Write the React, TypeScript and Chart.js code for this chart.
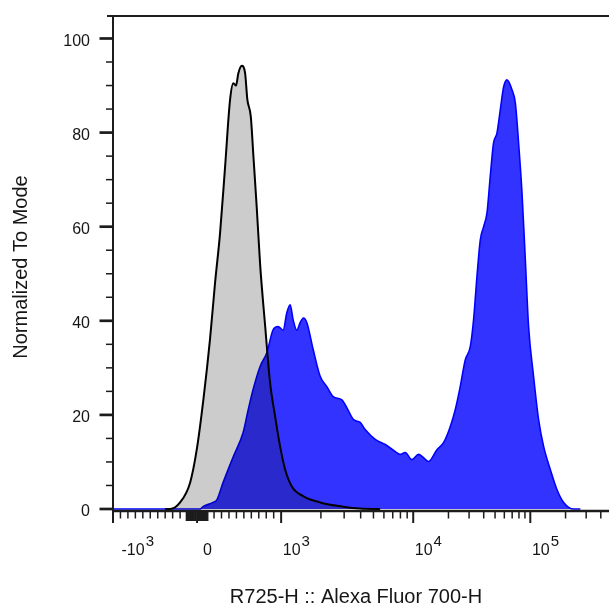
import React, { useEffect, useRef } from "react";
import { Chart, registerables } from "chart.js";

Chart.register(...registerables);

// ---- Data (fluorescence values, normalized-to-mode counts) ----
const CONTROL_X = [-300, -234, -100, -41, -2, 37, 76, 113, 181, 248, 315, 359, 395, 426, 472, 516, 547, 593, 628, 673, 718, 785, 852, 919, 986, 1072, 1205, 1476, 1974, 2949, 3966, 5623];
const CONTROL_Y = [0, 0, 1.4, 5.6, 12.6, 23.2, 36, 48, 58.7, 72.7, 87, 90.5, 90, 92.6, 94.2, 92.7, 87, 83.4, 75, 64, 52, 39, 26.8, 19.7, 13.3, 8.4, 4.8, 2.7, 1.4, 0.5, 0.1, 0];

const SAMPLE_X = [-1000, -41, 18, 35, 94, 140, 221, 355, 489, 557, 624, 718, 808, 892, 959, 1035, 1104, 1170, 1233, 1315, 1393, 1476, 1566, 1748, 1974, 2219, 2477, 2883, 3147, 3535, 3966, 4327, 5156, 6143, 7318, 7975, 8700, 9773, 11100, 12250, 13510, 15940, 18150, 20710, 22860, 25210, 27830, 30720, 32770, 35030, 37410, 39940, 42700, 45460, 48550, 51890, 55390, 59160, 63230, 69750, 74470, 79430, 84910, 90650, 96710, 106700, 117700, 129900, 148200, 169100, 192700, 234600, 267500];
const SAMPLE_Y = [0, 0, 0, 0.5, 1.4, 2.0, 5.6, 11, 16.2, 21, 25.4, 30.3, 33.2, 38.1, 38.8, 38, 41.7, 43.4, 40.2, 38, 39.6, 40.6, 39.6, 33.9, 28.2, 26, 23.9, 23.2, 21.5, 19, 18.4, 16.9, 14.8, 13.7, 12.2, 11.6, 12, 10.5, 11.6, 10.9, 10.1, 12.6, 14.1, 17.5, 21.1, 26, 31.7, 34.5, 40.2, 49.4, 57.2, 60, 63, 70.6, 77.8, 79.9, 84.8, 89.7, 91.2, 89.1, 86.3, 77.8, 67.2, 53, 38.7, 28.1, 19, 13.3, 8.4, 4.1, 1.4, 0, 0];

// ---- Axis ticks ----
const X_TICK_VALUES = [-1000, 0, 1000, 10000, 100000];
const X_TICK_BASES = ["-10", "0", "10", "10", "10"];
const X_TICK_EXPS = ["3", "", "3", "4", "5"];
const X_MINOR = [
  -900, -800, -700, -600, -500, -400, -300, -200, -100,
  100, 200, 300, 400, 500, 600, 700, 800, 900,
  2000, 3000, 4000, 5000, 6000, 7000, 8000, 9000,
  20000, 30000, 40000, 50000, 60000, 70000, 80000, 90000,
  200000, 300000, 400000,
];
const X_NEAR_ZERO = [-60, -50, -40, -30, -20, -10, 10, 20, 30, 40, 50, 60];
const Y_MAJOR = [0, 20, 40, 60, 80, 100];
const Y_MINOR = [5, 10, 15, 25, 30, 35, 45, 50, 55, 65, 70, 75, 85, 90, 95];

const X_MIN_VALUE = -1000;
const X_MAX_VALUE = 470000;
const Y_MIN = -0.425;
const Y_MAX = 104.78;

// ---- Biexponential-like display transform (units: one upper decade = 1) ----
const W_ZERO = 0.145; // 0..100
const W_MID = 0.573; // 100..1000
const W_DEC3 = 1.128; // 1e3..1e4
function biex(v: number): number {
  const s = v < 0 ? -1 : 1;
  const a = Math.abs(v);
  let t: number;
  if (a <= 100) t = (a / 100) * W_ZERO;
  else if (a <= 1000) t = W_ZERO + ((a - 100) / 900) * W_MID;
  else if (a <= 10000) t = W_ZERO + W_MID + Math.log10(a / 1000) * W_DEC3;
  else t = W_ZERO + W_MID + W_DEC3 + Math.log10(a / 10000);
  return s * t;
}

const FONT = '"Liberation Sans", Arial, Helvetica, sans-serif';
const AXIS_COLOR = "#1c1c1c";
const TEXT_COLOR = "#161616";

const multiplyPlugin = {
  id: "multiplyBlend",
  beforeDatasetsDraw(chart: any) {
    chart.ctx.save();
    chart.ctx.globalCompositeOperation = "multiply";
  },
  afterDatasetsDraw(chart: any) {
    chart.ctx.restore();
  },
};

const axesPlugin = {
  id: "flowAxes",
  afterDraw(chart: any) {
    const { ctx, chartArea: a, scales } = chart;
    const xs = scales.x;
    const ys = scales.y;
    const seg = (x1: number, y1: number, x2: number, y2: number, w: number) => {
      ctx.lineWidth = w;
      ctx.beginPath();
      ctx.moveTo(x1, y1);
      ctx.lineTo(x2, y2);
      ctx.stroke();
    };
    ctx.save();
    ctx.strokeStyle = AXIS_COLOR;
    ctx.lineCap = "butt";
    // frame
    seg(a.left - 6, a.top, a.right, a.top, 2);
    seg(a.left, a.top, a.left, a.bottom + 12, 2);
    seg(a.left, a.bottom, a.right, a.bottom, 2.5);

    // y ticks
    Y_MINOR.forEach((v) => {
      const py = ys.getPixelForValue(v);
      seg(a.left - 7, py, a.left, py, 1.5);
    });
    ctx.fillStyle = TEXT_COLOR;
    ctx.font = `16px ${FONT}`;
    ctx.textAlign = "right";
    ctx.textBaseline = "alphabetic";
    Y_MAJOR.forEach((v) => {
      const py = ys.getPixelForValue(v);
      seg(a.left - 13.5, py, a.left, py, 2.7);
      ctx.fillText(String(v), 90, py + 7.3);
    });

    // x ticks
    X_MINOR.forEach((v) => {
      const px = xs.getPixelForValue(biex(v));
      if (px < a.left || px > a.right) return;
      seg(px, a.bottom, px, a.bottom + 7.5, 1.5);
    });
    X_NEAR_ZERO.forEach((v) => {
      const px = xs.getPixelForValue(biex(v));
      seg(px, a.bottom, px, a.bottom + 10, 2.4);
    });
    X_TICK_VALUES.forEach((v, i) => {
      const px = xs.getPixelForValue(biex(v));
      seg(px, a.bottom, px, a.bottom + 12, 2);
      ctx.textAlign = "left";
      ctx.font = `16px ${FONT}`;
      const base = X_TICK_BASES[i];
      const bw = ctx.measureText(base).width;
      const left = Math.max(px + 10.5 - bw / 2, a.left + 8.5);
      ctx.fillText(base, left, 555);
      if (X_TICK_EXPS[i]) {
        ctx.font = `15px ${FONT}`;
        ctx.fillText(X_TICK_EXPS[i], left + bw + 1, 546);
      }
    });

    // titles
    ctx.font = `20px ${FONT}`;
    ctx.textAlign = "center";
    ctx.fillText("R725-H :: Alexa Fluor 700-H", 356, 603);
    ctx.save();
    ctx.translate(27, 267);
    ctx.rotate(-Math.PI / 2);
    ctx.fillText("Normalized To Mode", 0, 0);
    ctx.restore();
    ctx.restore();
  },
};

export default function App() {
  const ref = useRef<HTMLCanvasElement | null>(null);
  useEffect(() => {
    if (!ref.current) return;
    const toPts = (xsArr: number[], ysArr: number[]) => xsArr.map((v, i) => ({ x: biex(v), y: ysArr[i] }));
    const chart = new Chart(ref.current, {
      type: "line",
      data: {
        datasets: [
          {
            label: "Control",
            data: toPts(CONTROL_X, CONTROL_Y),
            borderColor: "#000000",
            backgroundColor: "#cccccc",
            borderWidth: 2,
            fill: "origin",
            pointRadius: 0,
            cubicInterpolationMode: "monotone",
            order: 1,
          },
          {
            label: "Sample",
            data: toPts(SAMPLE_X, SAMPLE_Y),
            borderColor: "#0000ff",
            backgroundColor: "#3333ff",
            borderWidth: 1.6,
            fill: "origin",
            pointRadius: 0,
            cubicInterpolationMode: "monotone",
            order: 2,
          },
        ],
      },
      options: {
        responsive: false,
        animation: false,
        events: [],
        layout: { padding: { left: 113, top: 16, right: 0, bottom: 96 } },
        plugins: { legend: { display: false }, tooltip: { enabled: false } },
        scales: {
          x: { type: "linear", display: false, min: biex(X_MIN_VALUE), max: biex(X_MAX_VALUE) },
          y: { type: "linear", display: false, min: Y_MIN, max: Y_MAX },
        },
      },
      plugins: [multiplyPlugin, axesPlugin],
    } as any);
    return () => chart.destroy();
  }, []);
  return (
    <div style={{ position: "fixed", left: 0, top: 0, width: 609, height: 607, background: "#ffffff" }}>
      <canvas ref={ref} width={609} height={607} style={{ display: "block", width: 609, height: 607 }} />
    </div>
  );
}
